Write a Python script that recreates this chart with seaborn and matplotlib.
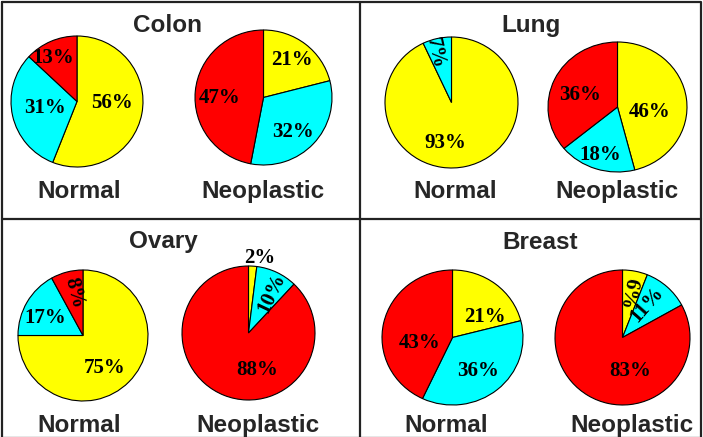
import matplotlib.pyplot as plt
import seaborn as sns

# data: slice shares (%) in order yellow, cyan, red (clockwise from 12 o'clock)
tissues = ["Colon", "Lung", "Ovary", "Breast"]
groups = ["Normal", "Neoplastic"]
colon_normal = [56, 31, 13]
colon_neoplastic = [21, 32, 47]
lung_normal = [93, 7, 0]
lung_neoplastic = [46, 18, 36]
ovary_normal = [75, 17, 8]
ovary_neoplastic = [2, 10, 88]
breast_normal = [21, 36, 43]
breast_neoplastic = [6, 11, 83]

shares = {
    ("Colon", "Normal"): colon_normal,
    ("Colon", "Neoplastic"): colon_neoplastic,
    ("Lung", "Normal"): lung_normal,
    ("Lung", "Neoplastic"): lung_neoplastic,
    ("Ovary", "Normal"): ovary_normal,
    ("Ovary", "Neoplastic"): ovary_neoplastic,
    ("Breast", "Normal"): breast_normal,
    ("Breast", "Neoplastic"): breast_neoplastic,
}

# layout in pixels (x, y from top-left)
W, H = 703, 437
pie_boxes = {
    ("Colon", "Normal"): (77, 101.5, 66, 65.5),
    ("Colon", "Neoplastic"): (263.5, 97.5, 68.5, 67.5),
    ("Lung", "Normal"): (451.5, 102.5, 66.5, 65.5),
    ("Lung", "Neoplastic"): (617.5, 107, 69.5, 65),
    ("Ovary", "Normal"): (83, 335.5, 65, 65.5),
    ("Ovary", "Neoplastic"): (248.5, 333, 66.5, 67),
    ("Breast", "Normal"): (452.5, 337.5, 70.5, 67.5),
    ("Breast", "Neoplastic"): (622.5, 337.5, 67.5, 67.5),
}
# percent label offsets from the pie centre, in pixels (dx right, dy down)
label_offsets = {
    ("Colon", "Normal"): [(35, 1.5), (-32, 6.5), (-24, -43.5)],
    ("Colon", "Neoplastic"): [(28.5, -37.5), (29.5, 34.5), (-43.5, 0.5)],
    ("Lung", "Normal"): [(-6.5, 40.5), (-16.5, -49.5), None],
    ("Lung", "Neoplastic"): [(32.5, 5), (-17.5, 48), (-37.5, -12)],
    ("Ovary", "Normal"): [(22, 32.5), (-38, -17.5), (-9, -42.5)],
    ("Ovary", "Neoplastic"): [(11.5, -75), (23.5, -40), (8.5, 37)],
    ("Breast", "Normal"): [(32.5, -20.5), (25.5, 33.5), (-32.5, 5.5)],
    ("Breast", "Neoplastic"): [(5.5, -44.5), (24.5, -32.5), (7.5, 33.5)],
}
title_pos = {"Colon": (168, 32), "Lung": (531, 32), "Ovary": (163, 248), "Breast": (540, 249)}
group_label_pos = {
    ("Colon", "Normal"): (79, 198),
    ("Colon", "Neoplastic"): (263, 198),
    ("Lung", "Normal"): (455, 198),
    ("Lung", "Neoplastic"): (617, 198),
    ("Ovary", "Normal"): (79, 432),
    ("Ovary", "Neoplastic"): (258, 432),
    ("Breast", "Normal"): (446, 432),
    ("Breast", "Neoplastic"): (632, 432),
}

sns.set_theme(style="white")
palette = sns.color_palette(["#FFFF00", "#00FFFF", "#FF0000"])
sans = ["Liberation Sans", "DejaVu Sans"]
serif = ["Liberation Serif", "DejaVu Serif"]

fig = plt.figure(figsize=(W / 100, H / 100), dpi=100)
fig.patch.set_facecolor("white")

bg = fig.add_axes([0, 0, 1, 1])
bg.set_xlim(0, W)
bg.set_ylim(H, 0)
bg.axis("off")
bg.plot([1.5, 701, 701, 1.5, 1.5], [2, 2, 438, 438, 2], color="#222222", lw=1.6)
bg.plot([360, 360], [2, 438], color="#222222", lw=1.6)
bg.plot([1.5, 701], [219, 219], color="#222222", lw=1.6)

for tissue in tissues:
    tx, ty = title_pos[tissue]
    bg.text(tx, ty, tissue, ha="center", va="baseline", fontsize=17.5,
            fontweight="bold", family=sans)
    for group in groups:
        gx, gy = group_label_pos[(tissue, group)]
        bg.text(gx, gy, group, ha="center", va="baseline", fontsize=17.5,
                fontweight="bold", family=sans)

        vals = shares[(tissue, group)]
        offsets = label_offsets[(tissue, group)]
        keep = [i for i, v in enumerate(vals) if v > 0]
        vals_k = [vals[i] for i in keep]
        cols_k = [palette[i] for i in keep]
        offs_k = [offsets[i] for i in keep]

        cx, cy, rx, ry = pie_boxes[(tissue, group)]
        ax = fig.add_axes([(cx - rx) / W, (H - cy - ry) / H, 2 * rx / W, 2 * ry / H])
        wedges, _, autotexts = ax.pie(
            vals_k,
            colors=cols_k,
            startangle=90,
            counterclock=False,
            autopct=lambda p: f"{p:.0f}%",
            pctdistance=0.62,
            wedgeprops={"edgecolor": "black", "linewidth": 0.8},
            textprops={"fontsize": 15, "fontweight": "bold", "family": serif,
                       "color": "black"},
        )
        ax.set_xlim(-1, 1)
        ax.set_ylim(-1, 1)
        ax.set_aspect("auto")
        ax.patch.set_alpha(0)

        for w, t, v, (dx, dy) in zip(wedges, autotexts, vals_k, offs_k):
            t.set_clip_on(False)
            t.set_position((dx / rx, -dy / ry))
            t.set_ha("center")
            t.set_va("center")
            if 3 <= v < 12:
                mid = ((w.theta1 + w.theta2) / 2) % 360
                t.set_rotation(mid if mid < 75 else mid - 180)
                t.set_rotation_mode("anchor")

fig.savefig("out.png", dpi=100, facecolor="white")
